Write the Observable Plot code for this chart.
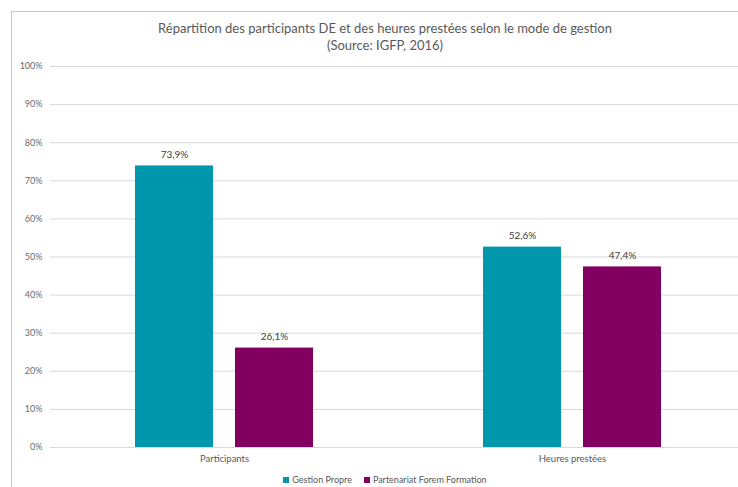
<!DOCTYPE html>
<html>
<head>
<meta charset="utf-8">
<script src="https://cdn.jsdelivr.net/npm/d3@7"></script>
<script src="https://cdn.jsdelivr.net/npm/@observablehq/plot@0.6"></script>
<style>
  html, body { margin: 0; padding: 0; background: #fff; width: 738px; height: 487px; overflow: hidden; font-family: Lato, "Open Sans", sans-serif; }
  #frame { position: absolute; left: 11px; top: 11px; width: 760px; height: 500px; border: 1px solid #c4c4c4; box-sizing: border-box; }
  .title { position: absolute; left: 0; width: 770px; text-align: center; color: #595959; }
  #t1 { top: 20px; font-size: 13px; }
  #t2 { top: 37px; font-size: 13px; }
  #chart { position: absolute; left: 0; top: 50px; width: 738px; overflow: hidden; }
  #chart svg { max-width: none; }
  #legend { position: absolute; top: 474px; left: 0; width: 770px; text-align: center; font-size: 9px; color: #595959; }
  #legend span.item { margin: 0 6px; white-space: nowrap; }
  #legend span.sw { display: inline-block; width: 6px; height: 6px; margin-right: 3px; vertical-align: 0px; }
</style>
</head>
<body>
<div id="frame"></div>
<div class="title" id="t1">Répartition des participants DE et des heures prestées selon le mode de gestion</div>
<div class="title" id="t2">(Source: IGFP, 2016)</div>
<div id="chart"></div>
<div id="legend"></div>
<script>
const categories = ["Participants", "Heures prestées"];
const series = ["Gestion Propre", "Partenariat Forem Formation"];
const gestionPropre = [73.9, 52.6];
const partenariat = [26.1, 47.4];
const seriesValues = [gestionPropre, partenariat];
const colors = ["#0096ab", "#810060"];
const yTicks = [0, 10, 20, 30, 40, 50, 60, 70, 80, 90, 100];

const data = categories.flatMap((c, i) =>
  series.map((s, j) => ({cat: c, serie: s, value: seriesValues[j][i]}))
);
const fmt = v => v.toFixed(1).replace(".", ",") + "%";

const chart = Plot.plot({
  width: 746,
  height: 420,
  marginTop: 16,
  marginBottom: 23,
  marginLeft: 50,
  marginRight: 0,
  style: {fontFamily: "Lato, 'Open Sans', sans-serif", background: "transparent"},
  fx: {domain: categories, padding: 0, round: false, label: null},
  x: {domain: series, paddingInner: 0.22, paddingOuter: 0.85, round: false, axis: null},
  y: {domain: [0, 100], label: null},
  color: {domain: series, range: colors},
  marks: [
    Plot.gridY(yTicks, {stroke: "#d9d9d9", strokeOpacity: 1, strokeWidth: 1}),
    Plot.axisY(yTicks, {tickSize: 0, tickPadding: 8, tickFormat: d => d + "%", fontSize: 9, fill: "#6b6b6b", label: null}),
    Plot.axisFx({anchor: "bottom", tickSize: 0, tickPadding: 8, fontSize: 9.5, fill: "#595959", label: null}),
    Plot.barY(data, {fx: "cat", x: "serie", y: "value", fill: "serie"}),
    Plot.text(data, {fx: "cat", x: "serie", y: "value", text: d => fmt(d.value), dy: -11, fontSize: 10, fill: "#404040"})
  ]
});
document.getElementById("chart").appendChild(chart);

const legend = document.getElementById("legend");
series.forEach((s, i) => {
  const item = document.createElement("span");
  item.className = "item";
  const sw = document.createElement("span");
  sw.className = "sw";
  sw.style.background = colors[i];
  item.appendChild(sw);
  item.appendChild(document.createTextNode(s));
  legend.appendChild(item);
});
</script>
</body>
</html>
